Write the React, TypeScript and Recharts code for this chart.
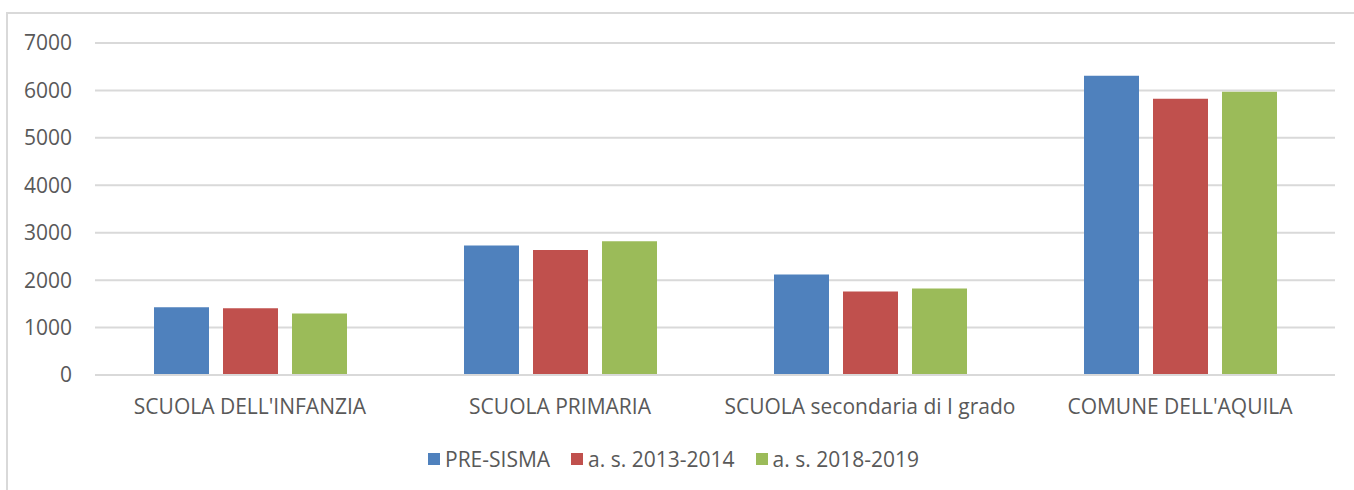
import { BarChart, Bar, XAxis, YAxis, CartesianGrid, Legend } from 'recharts'

const categories = [
  'SCUOLA DELL\'INFANZIA',
  'SCUOLA PRIMARIA',
  'SCUOLA secondaria di I grado',
  'COMUNE DELL\'AQUILA',
]
const preSisma = [1430, 2730, 2120, 6308]
const as2013 = [1408, 2638, 1762, 5823]
const as2018 = [1298, 2822, 1826, 5970]
const yTicks = [0, 1000, 2000, 3000, 4000, 5000, 6000, 7000]

const series = [
  { key: 'pre', name: 'PRE-SISMA', color: '#4F81BD' },
  { key: 'a13', name: 'a. s. 2013-2014', color: '#C0504D' },
  { key: 'a18', name: 'a. s. 2018-2019', color: '#9BBB59' },
]

const data = categories.map((c, i) => ({
  cat: c,
  pre: preSisma[i],
  a13: as2013[i],
  a18: as2018[i],
}))

const FONT = '"Open Sans", sans-serif'
const TEXT = '#595959'
const GRID = '#D9D9D9'

function LegendBox() {
  return (
    <div style={{ display: 'flex', alignItems: 'center', fontFamily: FONT, fontSize: 21, color: TEXT }}>
      {series.map((s) => (
        <div key={s.key} style={{ display: 'flex', alignItems: 'center', marginRight: 21 }}>
          <span style={{ width: 12, height: 12, background: s.color, display: 'inline-block', marginRight: 5 }} />
          <span>{s.name}</span>
        </div>
      ))}
    </div>
  )
}

export default function App() {
  return (
    <div style={{ position: 'absolute', left: 0, top: 0, width: 1354, height: 490, overflow: 'hidden', background: '#fff' }}>
      <div style={{ position: 'absolute', left: 6, top: 12, width: 1360, height: 500, border: '2px solid #D9D9D9', boxSizing: 'border-box' }} />
      <div style={{ position: 'absolute', left: 0, top: 0 }}>
        <BarChart
          width={1354}
          height={490}
          data={data}
          margin={{ top: 43, right: 19, left: 0, bottom: 75 }}
          barSize={55}
          barGap={14}
        >
          <CartesianGrid vertical={false} stroke={GRID} strokeWidth={2} />
          <XAxis
            dataKey="cat"
            height={40}
            tickLine={false}
            axisLine={{ stroke: GRID, strokeWidth: 2 }}
            tickSize={0}
            tickMargin={24}
            interval={0}
            tick={{ fill: TEXT, fontSize: 21, fontFamily: FONT }}
          />
          <YAxis
            width={95}
            domain={[0, 7000]}
            ticks={yTicks}
            axisLine={false}
            tickLine={false}
            tickSize={0}
            tickMargin={23}
            tick={{ fill: TEXT, fontSize: 21, fontFamily: FONT }}
          />
          <Legend
            layout="horizontal"
            verticalAlign="middle"
            align="center"
            wrapperStyle={{ top: 445, left: 428, width: 'auto' }}
            content={() => <LegendBox />}
          />
          {series.map((s) => (
            <Bar key={s.key} dataKey={s.key} name={s.name} fill={s.color} isAnimationActive={false} />
          ))}
        </BarChart>
      </div>
    </div>
  )
}
